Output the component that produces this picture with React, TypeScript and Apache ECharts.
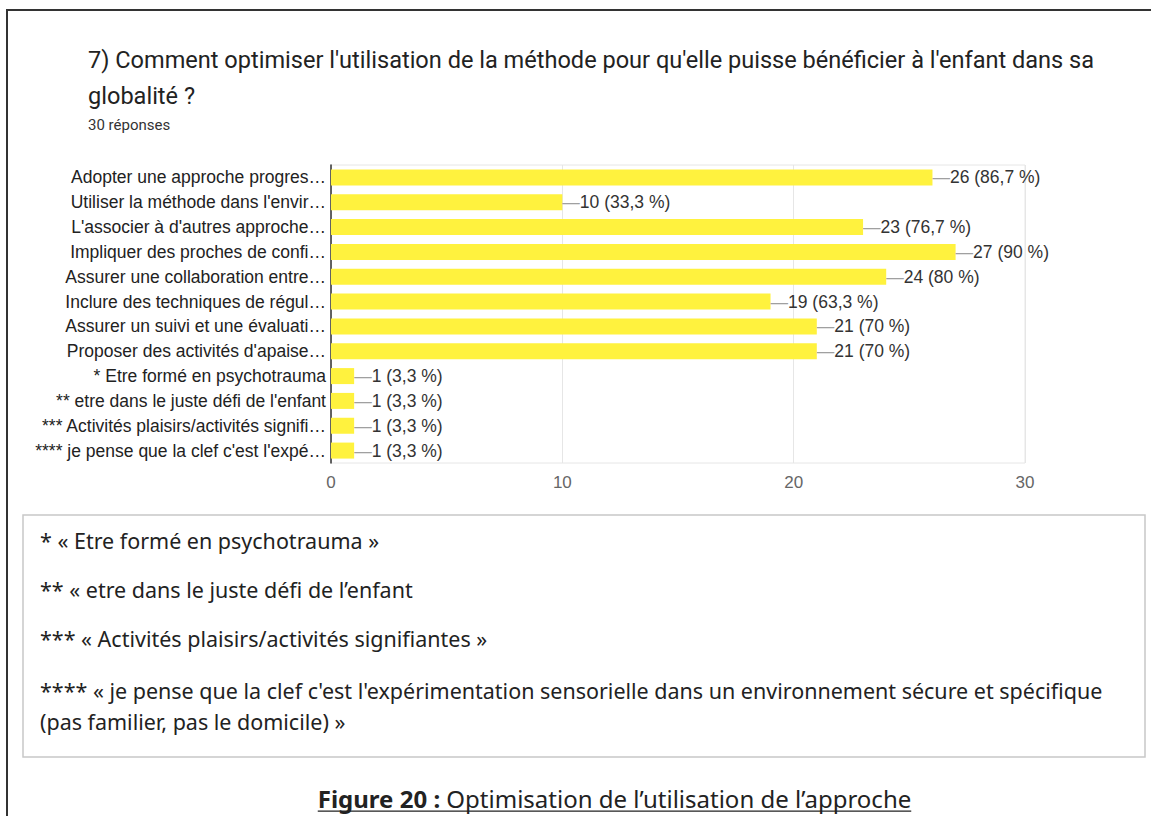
import React, { useEffect, useRef } from "react";
import * as echarts from "echarts";

const categories = [
  "Adopter une approche progres…",
  "Utiliser la méthode dans l'envir…",
  "L'associer à d'autres approche…",
  "Impliquer des proches de confi…",
  "Assurer une collaboration entre…",
  "Inclure des techniques de régul…",
  "Assurer un suivi et une évaluati…",
  "Proposer des activités d'apaise…",
  "* Etre formé en psychotrauma",
  "** etre dans le juste défi de l'enfant",
  "*** Activités plaisirs/activités signifi…",
  "**** je pense que la clef c'est l'expé…",
];
const counts = [26, 10, 23, 27, 24, 19, 21, 21, 1, 1, 1, 1];
const RESPONSES = 30;
const xTicks = [0, 10, 20, 30];

const titleLine1 =
  "7) Comment optimiser l'utilisation de la méthode pour qu'elle puisse bénéficier à l'enfant dans sa";
const titleLine2 = "globalité ?";
const subtitle = "30 réponses";

const notes = [
  "* « Etre formé en psychotrauma »",
  "** « etre dans le juste défi de l’enfant",
  "*** « Activités plaisirs/activités signifiantes »",
  "**** « je pense que la clef c'est l'expérimentation sensorielle dans un environnement sécure et spécifique",
  "(pas familier, pas le domicile) »",
];
const captionBold = "Figure 20 :";
const captionRest = " Optimisation de l’utilisation de l’approche";

const ctx = document.createElement("canvas").getContext("2d") as CanvasRenderingContext2D;
function measure(text: string, size: number, family: string, weight = "normal") {
  ctx.font = `${weight} ${size}px ${family}`;
  return ctx.measureText(text).width;
}
function fit(text: string, target: number, family: string, weight = "normal") {
  return (100 * target) / measure(text, 100, family, weight);
}

function pct(v: number) {
  const p = Math.round((v / RESPONSES) * 1000) / 10;
  return (Number.isInteger(p) ? String(p) : p.toFixed(1)).replace(".", ",");
}

export default function App() {
  const ref = useRef<HTMLDivElement>(null);
  useEffect(() => {
    document.body.style.margin = "0";
    const chart = echarts.init(ref.current!, null, { renderer: "svg" });

    const TF = "Roboto";
    const titleX = 88;
    const titleSize = fit(titleLine1, 1095 - titleX, TF);
    const subSize = 15;

    const NF = "'Noto Sans'";
    const noteSize = fit(notes[3], 1063, NF);
    const noteYs = [540, 589, 638, 690, 721];

    const capSize = fit(captionBold + captionRest, 589, NF, "normal");
    const wBold = measure(captionBold, capSize, NF, "bold");
    const wRest = measure(captionRest, capSize, NF, "normal");
    const capX = 614.5 - (wBold + wRest) / 2;
    const capY = 798;

    const AF = "Arial, 'Liberation Sans', sans-serif";
    const LS = 17.5;

    chart.setOption({
      animation: false,
      backgroundColor: "#ffffff",
      grid: {
        left: 331,
        top: 165,
        right: 1151 - 1025,
        bottom: 816 - 463,
        show: true,
        borderColor: "#e6e6e6",
        borderWidth: 1,
      },
      xAxis: {
        type: "value",
        min: 0,
        max: 30,
        interval: 10,
        axisLine: { show: false },
        axisTick: { show: false },
        splitLine: { show: true, lineStyle: { color: "#e6e6e6", width: 1 } },
        axisLabel: {
          color: "#666",
          fontFamily: AF,
          fontSize: 17,
          margin: 11,
          formatter: (v: number) => (xTicks.includes(v) ? String(v) : ""),
        },
      },
      yAxis: {
        type: "category",
        inverse: true,
        data: categories,
        axisLine: { show: true, lineStyle: { color: "#333", width: 1.5 } },
        axisTick: { show: false },
        axisLabel: { color: "#222", fontFamily: AF, fontSize: LS, margin: 5 },
      },
      series: [
        {
          type: "bar",
          data: counts,
          barWidth: 16,
          itemStyle: { color: "#fff23e" },
          label: {
            show: true,
            position: "right",
            distance: 0,
            fontFamily: AF,
            fontSize: LS,
            formatter: (p: any) => `{d|—}{v|${p.value} (${pct(p.value)} %)}`,
            rich: {
              d: { color: "#a0a0a0", fontFamily: AF, fontSize: LS },
              v: { color: "#333", fontFamily: AF, fontSize: LS },
            },
          },
        },
      ],
      graphic: [
        {
          type: "rect",
          silent: true,
          shape: { x: 7, y: 10, width: 1300, height: 1000 },
          style: { fill: "none", stroke: "#333", lineWidth: 2 },
        },
        {
          type: "text",
          x: titleX,
          y: 60,
          style: { text: titleLine1, font: `normal ${titleSize}px ${TF}`, fill: "#222", verticalAlign: "middle" },
        },
        {
          type: "text",
          x: titleX,
          y: 96,
          style: { text: titleLine2, font: `normal ${titleSize}px ${TF}`, fill: "#222", verticalAlign: "middle" },
        },
        {
          type: "text",
          x: titleX,
          y: 125,
          style: { text: subtitle, font: `normal ${subSize}px ${TF}`, fill: "#333", verticalAlign: "middle" },
        },
        {
          type: "rect",
          silent: true,
          shape: { x: 23, y: 515, width: 1122, height: 242 },
          style: { fill: "none", stroke: "#c8c8c8", lineWidth: 1.5 },
        },
        ...notes.map((t, i) => ({
          type: "text",
          x: 40,
          y: noteYs[i],
          style: { text: t, font: `normal ${noteSize}px ${NF}`, fill: "#222", verticalAlign: "middle" },
        })),
        {
          type: "text",
          x: capX,
          y: capY,
          style: { text: captionBold, font: `bold ${capSize}px ${NF}`, fill: "#222", verticalAlign: "middle" },
        },
        {
          type: "text",
          x: capX + wBold,
          y: capY,
          style: { text: captionRest, font: `normal ${capSize}px ${NF}`, fill: "#222", verticalAlign: "middle" },
        },
        {
          type: "line",
          shape: { x1: capX, y1: capY + capSize * 0.55, x2: capX + wBold + wRest, y2: capY + capSize * 0.55 },
          style: { stroke: "#222", lineWidth: 1.2 },
        },
      ],
    });
    return () => chart.dispose();
  }, []);
  return (
    <div
      ref={ref}
      style={{ position: "absolute", left: 0, top: 0, width: 1151, height: 816 }}
    />
  );
}
